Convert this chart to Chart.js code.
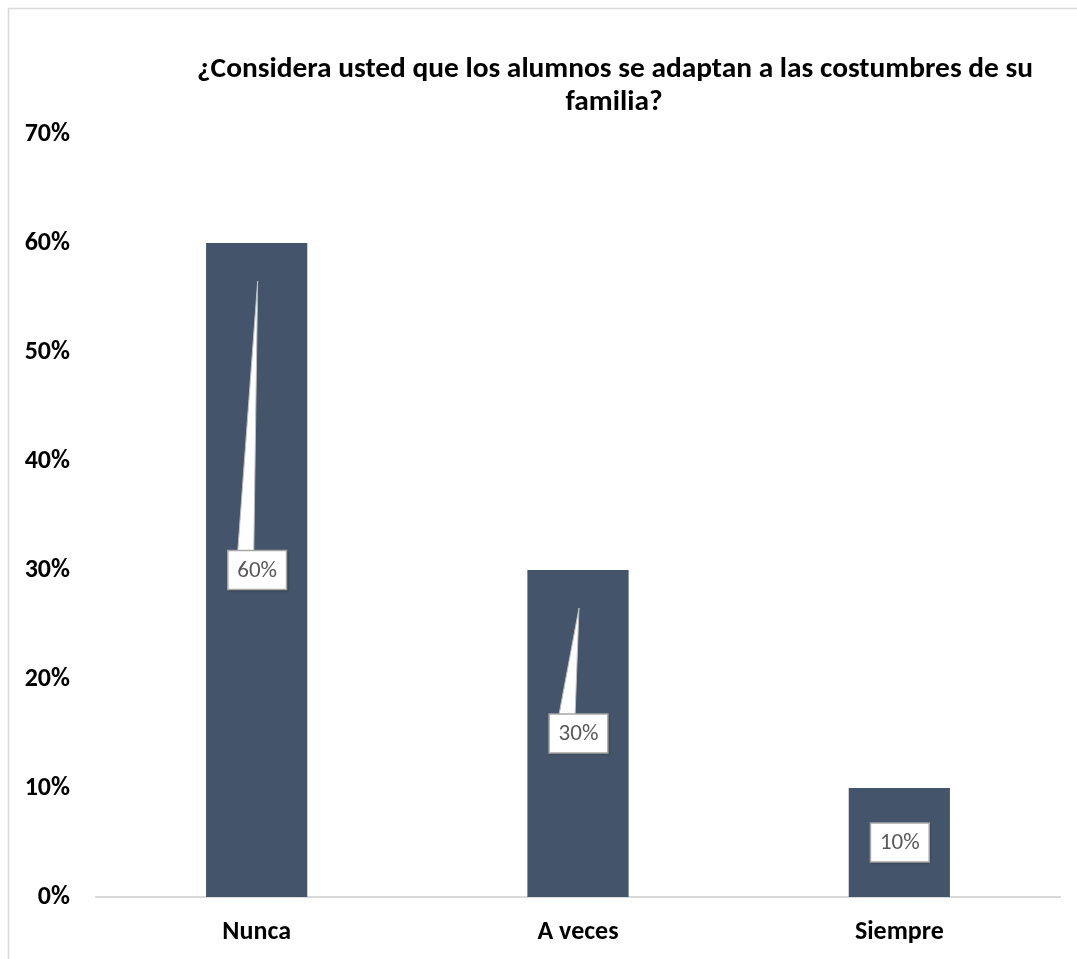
<!DOCTYPE html>
<html>
<head>
<meta charset="utf-8">
<script src="https://cdn.jsdelivr.net/npm/chart.js@4"></script>
<style>
  body { margin: 0; background: #fff; }
  canvas { display: block; }
</style>
</head>
<body>
<canvas id="myChart" width="1077" height="959"></canvas>
<script>
const categories = ['Nunca', 'A veces', 'Siempre'];
const values = [60, 30, 10];
const titleLines = ['¿Considera usted que los alumnos se adaptan a las costumbres de su', 'familia?'];
const yMax = 70;
const yStep = 10;

const FONT = 'Carlito, Lato, "Open Sans", sans-serif';

// frame + title
const frameTitle = {
  id: 'frameTitle',
  beforeDraw(chart) {
    const ctx = chart.ctx;
    ctx.save();
    ctx.strokeStyle = '#d9d9d9';
    ctx.lineWidth = 1.5;
    ctx.beginPath();
    ctx.moveTo(8.5, chart.height);
    ctx.lineTo(8.5, 8.5);
    ctx.lineTo(chart.width, 8.5);
    ctx.stroke();

    ctx.font = 'bold 28px ' + FONT;
    // original glyphs come out a little wider, stretch to its width
    let k = 836 / ctx.measureText(titleLines[0]).width;
    k = Math.max(0.9, Math.min(k, 1.1));
    ctx.fillStyle = '#000';
    ctx.textAlign = 'center';
    ctx.textBaseline = 'alphabetic';
    ctx.translate(615, 0);
    ctx.scale(k, 1);
    ctx.fillText(titleLines[0], 0, 77);
    ctx.fillText(titleLines[1], -1 / k, 110);
    ctx.restore();
  }
};

// callout style data labels
const callouts = {
  id: 'callouts',
  afterDatasetsDraw(chart) {
    const ctx = chart.ctx;
    const yScale = chart.scales.y;
    const meta = chart.getDatasetMeta(0);
    ctx.save();
    ctx.font = '23px ' + FONT;
    meta.data.forEach((bar, i) => {
      const txt = values[i] + '%';
      const cy = yScale.getPixelForValue(values[i] / 2);
      const w = ctx.measureText(txt).width + 19;
      const h = 39;
      const left = bar.x - w / 2 + 0.5;
      const top = cy - h / 2;
      const tipX = bar.x + 1;
      const tipY = bar.y + 38;

      if (tipY < top) {
        ctx.fillStyle = '#fff';
        ctx.strokeStyle = '#bfbfbf';
        ctx.lineWidth = 1;
        ctx.beginPath();
        ctx.moveTo(left + 10, top + 1);
        ctx.lineTo(tipX, tipY);
        ctx.lineTo(left + 26, top + 1);
        ctx.closePath();
        ctx.fill();
        ctx.beginPath();
        ctx.moveTo(left + 10, top);
        ctx.lineTo(tipX, tipY);
        ctx.lineTo(left + 26, top);
        ctx.stroke();
      }

      ctx.shadowColor = 'rgba(0,0,0,0.35)';
      ctx.shadowBlur = 2;
      ctx.shadowOffsetX = 1;
      ctx.shadowOffsetY = 1;
      ctx.fillStyle = '#fff';
      ctx.fillRect(left, top, w, h);
      ctx.shadowColor = 'transparent';
      ctx.strokeStyle = '#a6a6a6';
      ctx.lineWidth = 1.5;
      ctx.strokeRect(left, top, w, h);

      ctx.fillStyle = '#595959';
      ctx.textAlign = 'center';
      ctx.textBaseline = 'middle';
      ctx.fillText(txt, left + w / 2, cy + 1);
    });
    ctx.restore();
  }
};

const ctx = document.getElementById('myChart').getContext('2d');
const myChart = new Chart(ctx, {
  type: 'bar',
  data: {
    labels: categories,
    datasets: [{
      data: values,
      backgroundColor: '#44546A',
      categoryPercentage: 1,
      barPercentage: 0.315
    }]
  },
  options: {
    responsive: false,
    animation: false,
    layout: { padding: { top: 134, left: 8, right: 17, bottom: 0 } },
    plugins: {
      legend: { display: false },
      tooltip: { enabled: false },
      title: { display: false }
    },
    scales: {
      x: {
        grid: { display: false, drawTicks: false },
        border: { display: true, color: '#d9d9d9', width: 2 },
        ticks: {
          color: '#000',
          padding: 20,
          font: { family: FONT, size: 26, weight: 'bold' }
        },
        afterFit(scale) { scale.height = 62; }
      },
      y: {
        min: 0,
        max: yMax,
        grid: { display: false, drawTicks: false },
        border: { display: false },
        ticks: {
          stepSize: yStep,
          color: '#000',
          padding: 26,
          font: { family: FONT, size: 26, weight: 'bold' },
          callback: v => v + '%'
        },
        afterFit(scale) { scale.width = 88; }
      }
    }
  },
  plugins: [frameTitle, callouts]
});
</script>
</body>
</html>
